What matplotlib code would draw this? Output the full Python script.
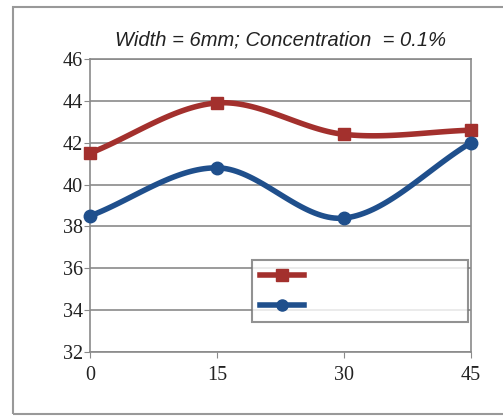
import numpy as np
import matplotlib
matplotlib.use("Agg")
import matplotlib.pyplot as plt
from matplotlib.lines import Line2D
from matplotlib.patches import Rectangle

angles = [0, 15, 30, 45]
series_red = [41.5, 43.9, 42.4, 42.6]
series_blue = [38.5, 40.8, 38.4, 42.0]
yticks = [32, 34, 36, 38, 40, 42, 44, 46]
title = "Width = 6mm; Concentration  = 0.1%"

red = "#a3302d"
blue = "#1f4f8c"


def smooth(x, y, n=40):
    # Catmull-Rom spline through the data points (Excel-like smoothed line)
    x = np.asarray(x, float); y = np.asarray(y, float)
    px = np.concatenate([[2 * x[0] - x[1]], x, [2 * x[-1] - x[-2]]])
    py = np.concatenate([[2 * y[0] - y[1]], y, [2 * y[-1] - y[-2]]])
    xs, ys = [], []
    for i in range(1, len(px) - 2):
        t = np.linspace(0, 1, n)
        def cr(p):
            p0, p1, p2, p3 = p[i - 1], p[i], p[i + 1], p[i + 2]
            return 0.5 * ((2 * p1) + (-p0 + p2) * t + (2 * p0 - 5 * p1 + 4 * p2 - p3) * t ** 2
                          + (-p0 + 3 * p1 - 3 * p2 + p3) * t ** 3)
        xs.append(cr(px)); ys.append(cr(py))
    return np.concatenate(xs), np.concatenate(ys)


fig = plt.figure(figsize=(5.03, 4.16), dpi=100)
fig.patch.set_facecolor("white")
fig.add_artist(Rectangle((13 / 503, 2 / 416), 500 / 503, 407 / 416, transform=fig.transFigure,
                         fill=False, edgecolor="#999999", linewidth=1.5))

ax = fig.add_axes([90 / 503, 64 / 416, 381 / 503, 293 / 416])
ax.set_xlim(0, 45)
ax.set_ylim(32, 46)
ax.set_xticks(angles)
ax.set_yticks(yticks)
ax.grid(axis="y", color="#8a8a8a", linewidth=1.2)
ax.set_axisbelow(True)
for s in ax.spines.values():
    s.set_color("#8a8a8a")
    s.set_linewidth(1.2)
ax.tick_params(axis="both", direction="out", length=4, color="#8a8a8a",
               labelsize=14.5, pad=6, labelcolor="#222222")
for lab in ax.get_xticklabels() + ax.get_yticklabels():
    lab.set_fontfamily("Liberation Serif")
ax.tick_params(axis="y", pad=1)

for ys, c, m, ms in [(series_red, red, "s", 9), (series_blue, blue, "o", 9)]:
    sx, sy = smooth(angles, ys)
    ax.plot(sx, sy, color=c, linewidth=4, solid_capstyle="round", clip_on=False, zorder=3)
    ax.plot(angles, ys, linestyle="none", marker=m, markersize=ms, color=c, clip_on=False, zorder=4)

ax.set_title(title, fontsize=14.5, fontstyle="italic", fontfamily="Liberation Sans",
             color="#222222", pad=10)

handles = [Line2D([], [], color=red, linewidth=4, marker="s", markersize=8),
           Line2D([], [], color=blue, linewidth=4, marker="o", markersize=8)]
leg = ax.legend(handles, ["", ""], loc="lower left", bbox_to_anchor=(0.424, 0.104, 0.567, 0.228),
                mode="expand", frameon=True, fancybox=False, handlelength=3.2,
                borderpad=0.6, labelspacing=1.2, handletextpad=0.5, borderaxespad=0)
leg.get_frame().set_edgecolor("#777777")
leg.get_frame().set_linewidth(1.5)

fig.savefig("out.png", dpi=100)
